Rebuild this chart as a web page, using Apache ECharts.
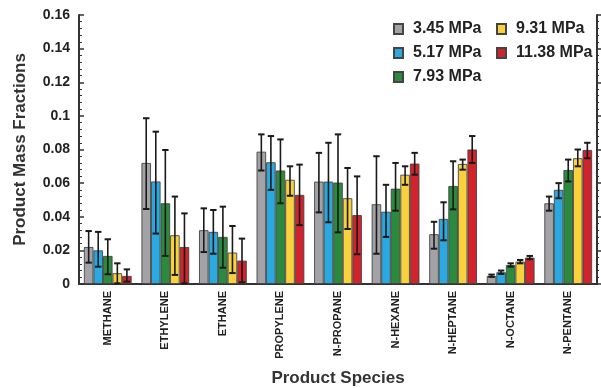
<!DOCTYPE html>
<html><head><meta charset="utf-8">
<script src="https://cdn.jsdelivr.net/npm/echarts@6/dist/echarts.min.js"></script>
<style>html,body{margin:0;padding:0;background:#fff}#c{width:601px;height:388px}</style>
</head><body><div id="c"></div>
<script>
const categories = ['METHANE','ETHYLENE','ETHANE','PROPYLENE','N-PROPANE','N-HEXANE','N-HEPTANE','N-OCTANE','N-PENTANE'];
const seriesNames = ['3.45 MPa','5.17 MPa','7.93 MPa','9.31 MPa','11.38 MPa'];
const colors = ['#a3a3a7','#2aa9e0','#2c8a3e','#f9d13d','#d1232b'];
const yTicks = [0,0.02,0.04,0.06,0.08,0.1,0.12,0.14,0.16];

const v345 = [0.022,0.072,0.032,0.0787,0.0609,0.0474,0.0296,0.0048,0.048];
const v517 = [0.020,0.061,0.031,0.0724,0.0609,0.043,0.0387,0.007,0.056];
const v793 = [0.0167,0.048,0.028,0.0675,0.0603,0.0567,0.0583,0.0113,0.0678];
const v931 = [0.0064,0.029,0.0187,0.062,0.051,0.065,0.0714,0.0133,0.0748];
const v1138 = [0.0048,0.022,0.0139,0.053,0.041,0.0716,0.080,0.0157,0.0797];

const lo345 = [0.0127,0.0446,0.019,0.0675,0.0426,0.018,0.021,0.0042,0.0436];
const hi345 = [0.0315,0.0986,0.045,0.089,0.078,0.076,0.037,0.0056,0.052];
const lo517 = [0.0103,0.030,0.018,0.056,0.0367,0.028,0.026,0.006,0.051];
const hi517 = [0.031,0.0906,0.044,0.088,0.084,0.059,0.0486,0.008,0.060];
const lo793 = [0.0058,0.0167,0.0097,0.048,0.0307,0.0436,0.0444,0.0103,0.061];
const hi793 = [0.0266,0.0797,0.046,0.086,0.089,0.072,0.073,0.0123,0.074];
const lo931 = [0.0004,0.0054,0.0065,0.0525,0.0327,0.059,0.068,0.0123,0.070];
const hi931 = [0.0123,0.052,0.0345,0.070,0.069,0.070,0.074,0.0143,0.080];
const lo1138 = [0.0014,0.0004,0.001,0.035,0.0177,0.065,0.072,0.0147,0.0748];
const hi1138 = [0.0087,0.042,0.027,0.071,0.064,0.078,0.088,0.0167,0.084];

const values = [v345,v517,v793,v931,v1138];
const lows = [lo345,lo517,lo793,lo931,lo1138];
const highs = [hi345,hi517,hi793,hi931,hi1138];

const CAT_GAP = 0.17;
const FONT = '"Liberation Sans", Arial, sans-serif';

const series = [];
values.forEach((vals,i)=>{
  series.push({
    name: seriesNames[i], type:'bar', data: vals,
    barGap:'0%', barCategoryGap: (CAT_GAP*100)+'%',
    itemStyle:{color:colors[i], borderColor:'#444', borderWidth:0.9},
    z:2
  });
});
values.forEach((vals,i)=>{
  series.push({
    type:'custom', name: seriesNames[i]+' err', z:5, silent:true,
    data: categories.map((c,k)=>[k, lows[i][k], highs[i][k]]),
    renderItem: function(params, api){
      const k = api.value(0);
      const pLo = api.coord([k, api.value(1)]);
      const pHi = api.coord([k, api.value(2)]);
      const catW = api.size([1,0])[0];
      const groupW = catW*(1-CAT_GAP);
      const bw = groupW/5;
      const x = pLo[0] - groupW/2 + bw*(i+0.5);
      const cap = 3.2;
      const st = {stroke:'#1a1a1a', lineWidth:1.6};
      return {type:'group', children:[
        {type:'line', shape:{x1:x,y1:pLo[1],x2:x,y2:pHi[1]}, style:st},
        {type:'line', shape:{x1:x-cap,y1:pLo[1],x2:x+cap,y2:pLo[1]}, style:{stroke:'#1a1a1a',lineWidth:2}},
        {type:'line', shape:{x1:x-cap,y1:pHi[1],x2:x+cap,y2:pHi[1]}, style:{stroke:'#1a1a1a',lineWidth:2}}
      ]};
    }
  });
});

const legendCommon = {
  orient:'vertical', itemWidth:9, itemHeight:10, itemGap:8,
  textStyle:{fontFamily:FONT, fontWeight:'bold', fontSize:16, color:'#222', padding:[0,0,0,5]},
  icon:'rect'
};

const chart = echarts.init(document.getElementById('c'), null, {renderer:'canvas'});
chart.setOption({
  animation:false,
  backgroundColor:'#fff',
  color: colors,
  grid:{left:79, right:4, top:15, bottom:104, containLabel:false, outerBoundsMode:'none'},
  legend:[
    Object.assign({}, legendCommon, {data:seriesNames.slice(0,3), left:388, top:16}),
    Object.assign({}, legendCommon, {data:seriesNames.slice(3), left:491, top:16})
  ],
  xAxis:[{
    type:'category', data:categories,
    axisLine:{lineStyle:{color:'#333', width:2}},
    axisTick:{show:false},
    axisLabel:{rotate:90, interval:0, fontFamily:FONT, fontWeight:'bold', fontSize:11, color:'#222', margin:7},
    name:'Product Species', nameLocation:'middle', nameGap:86,
    nameTextStyle:{fontFamily:FONT, fontWeight:'bold', fontSize:17, color:'#333'}
  },{
    type:'category', data:categories, position:'top',
    axisLine:{lineStyle:{color:'#333', width:2}}, axisTick:{show:false}, axisLabel:{show:false}
  }],
  yAxis:[{
    type:'value', min:0, max:0.16, interval:0.02,
    axisLine:{show:true, lineStyle:{color:'#333', width:2}},
    axisTick:{show:true, inside:true, length:5, lineStyle:{color:'#333', width:1.5}},
    minorTick:{show:true, splitNumber:5, length:3, lineStyle:{color:'#333'}},
    splitLine:{show:false},
    axisLabel:{fontFamily:FONT, fontWeight:'bold', fontSize:14, color:'#222', margin:9,
      formatter: v => { const t = yTicks.find(x=>Math.abs(x-v)<1e-9); return String(t!==undefined?t:v); }},
    name:'Product Mass Fractions', nameLocation:'middle', nameGap:50,
    nameTextStyle:{fontFamily:FONT, fontWeight:'bold', fontSize:17, color:'#333'}
  },{
    type:'value', min:0, max:0.16, interval:0.02, position:'right',
    axisLine:{show:true, lineStyle:{color:'#333', width:2}},
    axisTick:{show:true, inside:false, length:4, lineStyle:{color:'#333', width:1.5}},
    minorTick:{show:true, splitNumber:5, length:2, lineStyle:{color:'#333'}},
    splitLine:{show:false}, axisLabel:{show:false}
  }],
  series: series
});
</script></body></html>
